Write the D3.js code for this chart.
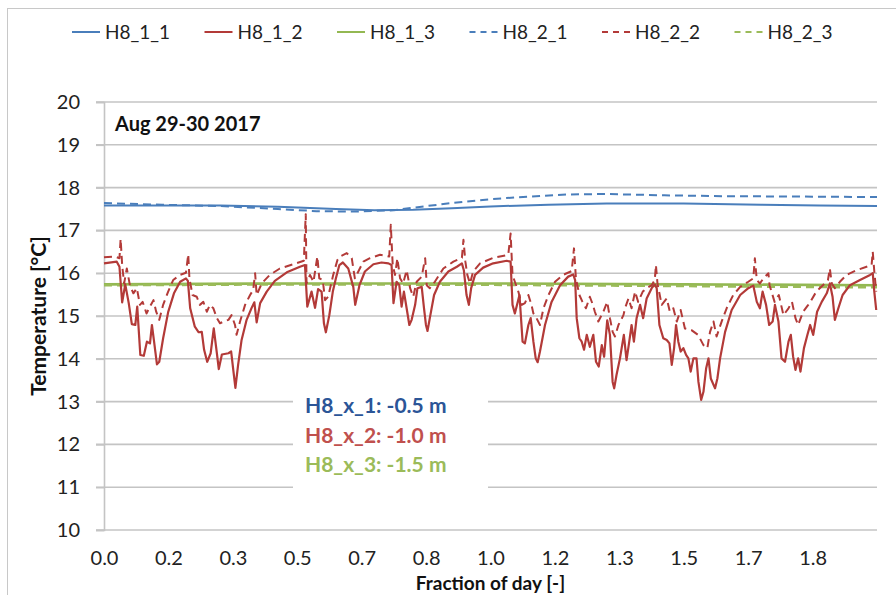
<!DOCTYPE html>
<html><head><meta charset="utf-8">
<script src="https://cdn.jsdelivr.net/npm/d3@7"></script>
<style>
html,body{margin:0;padding:0;background:#fff;}
svg{display:block;font-family:Lato,"Open Sans",sans-serif;}
</style></head>
<body><svg id="chart" width="896" height="595"></svg>
<script>
// ---------- DATA ----------
const seriesNames = ["H8_1_1","H8_1_2","H8_1_3","H8_2_1","H8_2_2","H8_2_3"];
const yTicks = [10,11,12,13,14,15,16,17,18,19,20];
const xTickValues = [0,1/6,2/6,3/6,4/6,5/6,1,7/6,8/6,9/6,10/6,11/6];
const xTickLabels = ["0.0","0.2","0.3","0.5","0.7","0.8","1.0","1.2","1.3","1.5","1.7","1.8"];
const depthLabels = ["H8_x_1: -0.5 m","H8_x_2: -1.0 m","H8_x_3: -1.5 m"];
const periodLabel = "Aug 29-30 2017";

const h811_x = [0,0.3,0.45,0.6,0.7,0.8,0.9,1.0,1.15,1.3,1.5,1.7,1.85,2.0];
const h811_t = [17.58,17.58,17.55,17.5,17.47,17.48,17.52,17.56,17.6,17.63,17.63,17.6,17.58,17.57];

const h821_x = [0,0.15,0.3,0.45,0.55,0.65,0.75,0.8,0.9,1.0,1.1,1.2,1.3,1.45,1.6,1.8,2.0];
const h821_t = [17.64,17.6,17.57,17.5,17.45,17.44,17.47,17.53,17.64,17.73,17.79,17.84,17.85,17.82,17.8,17.79,17.78];

const h813_x = [0,0.5,1.0,1.5,2.0];
const h813_t = [15.74,15.76,15.76,15.74,15.72];

const h823_x = [0,0.5,1.0,1.5,2.0];
const h823_t = [15.72,15.74,15.73,15.70,15.67];

const h812_x = [0,.033,.040,.047,.055,.064,.072,.081,.086,.094,.103,.111,.119,.124,.129,.137,.143,.153,.166,.181,.197,.212,.217,.223,.235,.245,.253,.259,.267,.276,.284,.292,.297,.305,.322,.329,.335,.340,.347,.356,.369,.382,.389,.395,.404,.421,.442,.473,.507,.520,.526,.537,.546,.554,.563,.569,.574,.583,.592,.600,.609,.618,.632,.645,.650,.661,.675,.697,.718,.736,.744,.749,.757,.764,.770,.776,.783,.790,.796,.805,.811,.822,.828,.833,.837,.843,.854,.869,.891,.913,.926,.931,.938,.944,.950,.960,.981,1.007,1.042,1.052,1.057,1.063,1.075,1.083,1.089,1.098,1.104,1.111,1.117,1.122,1.128,1.141,1.158,1.180,1.201,1.214,1.219,1.223,1.230,1.236,1.242,1.249,1.257,1.266,1.273,1.280,1.288,1.294,1.302,1.309,1.316,1.320,1.326,1.335,1.345,1.352,1.359,1.365,1.371,1.378,1.387,1.395,1.404,1.417,1.425,1.430,1.437,1.447,1.456,1.463,1.469,1.475,1.480,1.486,1.492,1.499,1.506,1.512,1.518,1.525,1.533,1.538,1.545,1.551,1.558,1.564,1.570,1.581,1.587,1.594,1.607,1.624,1.646,1.667,1.680,1.689,1.697,1.704,1.713,1.721,1.730,1.736,1.745,1.753,1.762,1.771,1.777,1.783,1.789,1.796,1.802,1.811,1.820,1.827,1.835,1.845,1.857,1.870,1.878,1.885,1.891,1.900,1.911,1.930,1.956,1.982,1.989,1.993,1.998];
const h812_t = [16.23,16.27,16.15,15.32,15.74,15.30,14.81,14.79,15.22,14.09,14.07,14.40,14.36,14.79,14.44,13.87,13.93,14.48,15.09,15.53,15.80,15.88,15.82,15.18,14.75,14.62,14.63,14.21,13.93,14.13,14.71,14.13,13.76,14.10,14.13,14.17,13.70,13.32,13.86,14.44,14.91,15.19,15.32,14.85,15.30,15.57,15.82,16.02,16.15,16.19,15.22,15.57,15.19,15.63,15.57,14.83,14.62,15.02,15.57,15.88,16.19,16.25,16.11,15.68,15.26,15.72,16.04,16.21,16.25,16.23,16.19,15.30,15.80,15.72,15.22,15.57,15.18,14.79,14.91,15.26,15.65,15.68,15.18,14.79,14.65,14.95,15.49,15.80,16.04,16.15,16.23,16.07,15.49,15.26,15.65,15.96,16.13,16.23,16.29,16.27,15.26,15.06,15.49,14.40,14.36,14.79,14.95,14.40,14.01,13.92,14.17,14.79,15.33,15.72,15.92,15.97,15.84,14.95,14.48,14.40,14.21,14.56,14.28,14.56,13.93,13.82,14.32,14.05,14.90,14.56,13.46,13.31,13.62,14.01,14.56,13.97,14.40,14.79,14.40,14.95,15.26,14.95,15.41,15.65,15.74,15.65,14.79,14.48,14.44,14.36,13.86,14.25,14.79,14.40,14.17,14.25,14.09,14.01,13.70,14.01,14.01,13.46,13.04,13.23,13.78,14.01,13.54,13.31,13.54,14.01,14.63,15.14,15.49,15.65,15.71,15.33,15.18,15.57,15.26,14.79,14.87,15.26,14.87,14.01,13.93,14.40,14.56,14.05,13.74,14.01,13.70,14.25,14.56,14.79,14.56,15.10,15.33,15.53,15.76,15.45,14.91,15.18,15.49,15.72,15.84,15.96,16.00,15.57,15.14];

const h822_x = [0,.028,.040,.043,.047,.052,.059,.067,.076,.085,.093,.100,.110,.119,.128,.135,.143,.153,.166,.179,.197,.212,.218,.221,.229,.240,.248,.257,.266,.274,.283,.292,.300,.310,.322,.330,.339,.343,.352,.365,.378,.386,.391,.395,.408,.429,.455,.490,.517,.522,.524,.533,.542,.552,.557,.566,.572,.580,.593,.604,.611,.628,.641,.649,.658,.671,.688,.714,.738,.742,.747,.753,.759,.766,.774,.783,.792,.800,.809,.822,.831,.835,.843,.856,.878,.904,.926,.930,.935,.940,.947,.955,.973,1.007,1.046,1.052,1.057,1.063,1.072,1.081,1.089,1.098,1.106,1.111,1.119,1.128,1.137,1.150,1.167,1.188,1.210,1.216,1.221,1.230,1.238,1.247,1.257,1.265,1.270,1.279,1.292,1.302,1.309,1.316,1.322,1.331,1.344,1.348,1.357,1.365,1.374,1.382,1.394,1.404,1.417,1.425,1.428,1.432,1.443,1.456,1.464,1.473,1.482,1.492,1.503,1.520,1.537,1.551,1.561,1.568,1.577,1.585,1.598,1.611,1.628,1.646,1.667,1.680,1.684,1.689,1.697,1.706,1.719,1.722,1.735,1.746,1.758,1.771,1.780,1.789,1.796,1.809,1.822,1.830,1.843,1.860,1.873,1.878,1.883,1.891,1.904,1.921,1.947,1.973,1.986,1.989,1.993,1.998];
const h822_t = [16.37,16.39,16.35,16.80,16.19,15.76,16.11,15.72,15.53,15.65,15.26,15.33,15.06,15.22,15.37,15.10,14.91,15.26,15.57,15.84,15.96,16.01,16.44,15.88,15.49,15.45,15.26,15.33,15.10,15.26,15.18,14.95,14.83,14.87,14.91,15.02,14.79,14.56,14.87,15.26,15.49,15.61,16.00,15.49,15.76,15.96,16.11,16.21,16.29,17.38,15.76,15.96,15.80,16.39,15.88,15.84,15.37,15.45,15.96,16.31,16.39,16.47,16.35,15.88,16.04,16.27,16.35,16.43,16.39,17.13,16.19,15.96,16.35,15.88,15.76,16.07,15.65,15.45,15.80,15.92,16.35,15.72,15.65,15.80,16.11,16.27,16.36,16.78,16.27,15.96,15.76,16.04,16.23,16.36,16.43,16.93,15.96,15.80,15.57,15.26,15.30,15.49,15.26,15.06,14.95,14.79,15.18,15.49,15.80,15.96,16.05,16.58,15.88,15.49,15.33,15.18,15.45,15.26,15.10,14.87,15.10,15.33,14.95,14.63,14.52,14.79,15.02,15.18,15.41,15.18,15.57,15.33,15.57,15.65,15.72,15.84,16.19,15.76,15.26,15.41,15.10,15.18,14.87,15.14,14.71,14.67,14.56,14.32,14.25,14.63,14.87,14.52,14.87,15.18,15.49,15.68,15.80,15.88,16.35,15.84,15.76,15.88,16.00,15.72,15.33,15.49,15.02,15.18,15.33,14.95,14.79,15.10,15.26,15.37,15.57,15.72,15.84,16.11,15.76,15.65,15.80,15.96,16.07,16.15,16.19,16.50,16.04,15.57];

// ---------- LAYOUT ----------
const W = 896, H = 595;
const mL = 104, mR = 877, mT = 102, mB = 530;
const svg = d3.select("#chart");
const x = d3.scaleLinear().domain([0,2]).range([mL,mR]);
const y = d3.scaleLinear().domain([10,20]).range([mB,mT]);
const gridColor = "#c4c4c4";

// outer border (cropped chart frame)
svg.append("rect").attr("x",7.5).attr("y",8.5).attr("width",W).attr("height",H)
  .attr("fill","none").attr("stroke","#c8c8c8").attr("stroke-width",1);

// gridlines
svg.append("g").selectAll("line").data(yTicks).join("line")
  .attr("x1",mL-8).attr("x2",mR)
  .attr("y1",d=>y(d)).attr("y2",d=>y(d))
  .attr("stroke",gridColor).attr("stroke-width",1.6);

// y axis
const yAxis = svg.append("g").attr("transform",`translate(${mL},0)`)
  .call(d3.axisLeft(y).tickValues(yTicks).tickSize(8).tickPadding(16).tickFormat(d3.format("d")));
yAxis.select(".domain").attr("stroke",gridColor).attr("stroke-width",1.6);
yAxis.selectAll(".tick line").attr("stroke",gridColor).attr("stroke-width",1.6);
yAxis.selectAll("text").attr("font-size",20).attr("fill","#222").attr("font-family","Lato");

// x axis
const xAxis = svg.append("g").attr("transform",`translate(0,${mB})`)
  .call(d3.axisBottom(x).tickValues(xTickValues).tickSize(0).tickPadding(21)
    .tickFormat((d,i)=>xTickLabels[i]));
xAxis.select(".domain").remove();
xAxis.selectAll("text").attr("font-size",20).attr("fill","#222").attr("font-family","Lato");

// axis titles
svg.append("text").attr("x",(mL+mR)/2).attr("y",590).attr("text-anchor","middle")
  .attr("font-size",19).attr("font-weight","bold").attr("fill","#111").text("Fraction of day [-]");
svg.append("text").attr("transform",`translate(46,${(mT+mB)/2}) rotate(-90)`)
  .attr("text-anchor","middle").attr("font-size",21).attr("font-weight","bold").attr("fill","#111")
  .text("Temperature [°C]");

// period label
svg.append("text").attr("x",115).attr("y",131).attr("font-size",20).attr("font-weight","bold")
  .attr("fill","#111").text(periodLabel);

// depth legend box (covers gridlines)
svg.append("rect").attr("x",293).attr("y",388).attr("width",195).attr("height",106).attr("fill","#fff");
const depthColors = ["#2b5597","#c0504d","#9bbb59"];
svg.append("g").selectAll("text").data(depthLabels).join("text")
  .attr("x",305).attr("y",(d,i)=>413+i*29.5)
  .attr("font-size",21).attr("font-weight","bold").attr("fill",(d,i)=>depthColors[i]).text(d=>d);

// series
const colors = {blue:"#4a7ebb", red:"#b33a38", green:"#93b852"};
const series = [
  {name:"H8_1_3", xs:h813_x, ts:h813_t, color:colors.green, dash:null, w:2.6},
  {name:"H8_2_3", xs:h823_x, ts:h823_t, color:"#9bbb59", dash:"8,5", w:2.6},
  {name:"H8_1_1", xs:h811_x, ts:h811_t, color:colors.blue, dash:null, w:2},
  {name:"H8_2_1", xs:h821_x, ts:h821_t, color:colors.blue, dash:"8,5", w:2},
  {name:"H8_2_2", xs:h822_x, ts:h822_t, color:colors.red, dash:"8,5", w:2},
  {name:"H8_1_2", xs:h812_x, ts:h812_t, color:colors.red, dash:null, w:2.2},
];
const line = d3.line().x(d=>x(d[0])).y(d=>y(d[1]));
svg.append("g").selectAll("path").data(series).join("path")
  .attr("d",s=>line(s.xs.map((v,i)=>[v,s.ts[i]])))
  .attr("fill","none").attr("stroke",s=>s.color).attr("stroke-width",s=>s.w)
  .attr("stroke-dasharray",s=>s.dash).attr("stroke-linejoin","round");

// top legend
const legendStyle = {
  "H8_1_1":{color:colors.blue,dash:null},"H8_1_2":{color:colors.red,dash:null},"H8_1_3":{color:colors.green,dash:null},
  "H8_2_1":{color:colors.blue,dash:"6,5"},"H8_2_2":{color:colors.red,dash:"6,5"},"H8_2_3":{color:"#9bbb59",dash:"6,5"}
};
const lg = svg.append("g").selectAll("g").data(seriesNames).join("g")
  .attr("transform",(d,i)=>`translate(${72+i*132.5},0)`);
lg.append("line").attr("x1",0).attr("x2",28).attr("y1",32).attr("y2",32)
  .attr("stroke",d=>legendStyle[d].color).attr("stroke-width",2)
  .attr("stroke-dasharray",d=>legendStyle[d].dash);
lg.append("text").attr("x",33).attr("y",39).attr("font-size",19).attr("fill","#222").text(d=>d);
</script></body></html>
